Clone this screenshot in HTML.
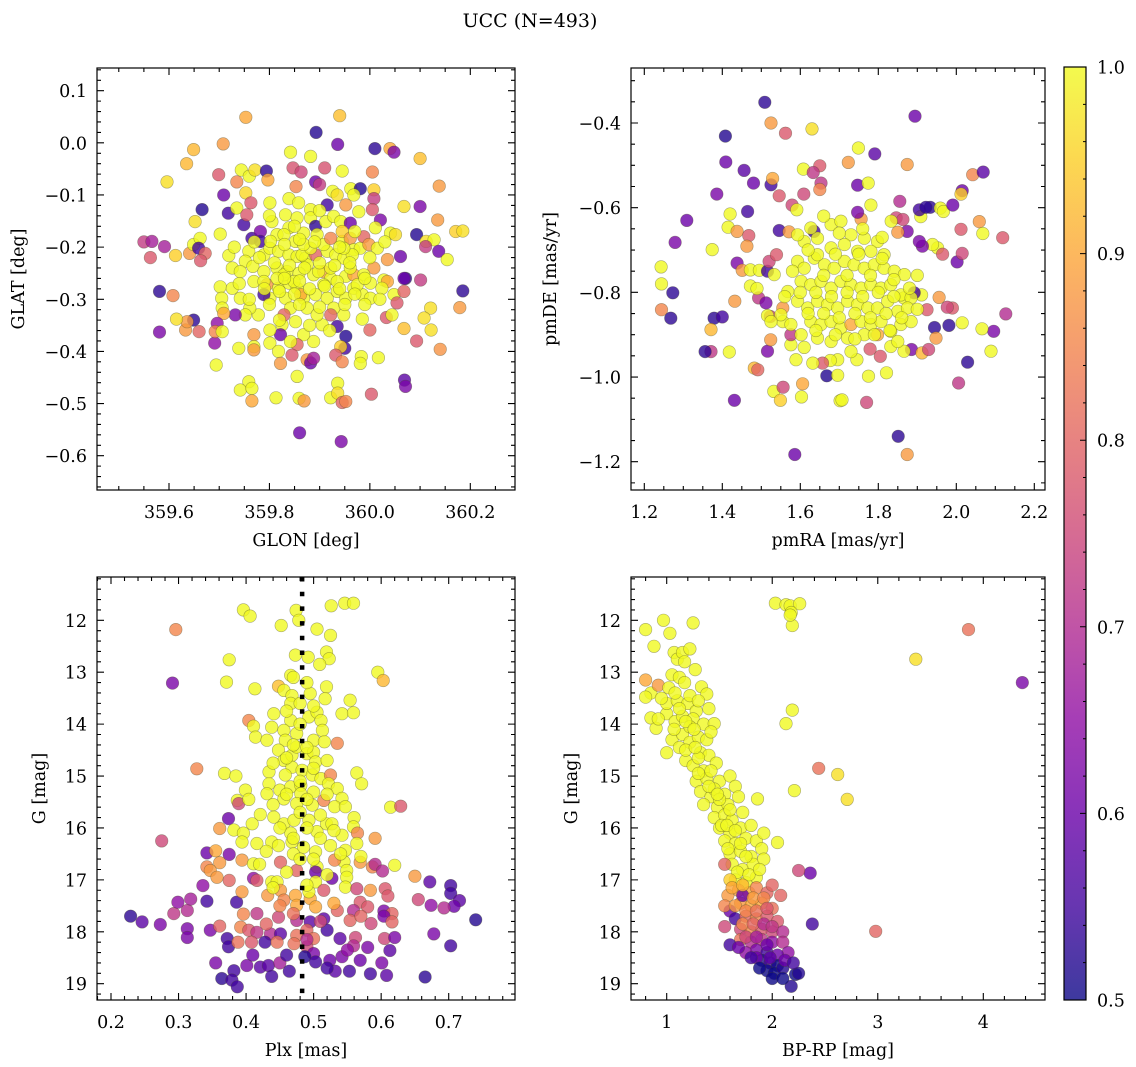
<!DOCTYPE html>
<html><head><meta charset="utf-8"><style>
html,body{margin:0;padding:0;background:#fff;}
svg{display:block;font-family:"DejaVu Serif","Liberation Serif",serif;}
</style></head><body>
<svg id="fig" width="1136" height="1067" viewBox="0 0 1136 1067" xmlns="http://www.w3.org/2000/svg">
<rect width="1136" height="1067" fill="#fff"/>
<text x="530" y="27" font-size="19" text-anchor="middle">UCC (N=493)</text>
<g id="layer"></g>
</svg>
<script>
// ---- data: [x, y, membership probability] ----
const glonGlatProb = [
[359.753,0.049,.9],[359.94,0.052,.93],[359.893,0.02,.52],[359.936,-0.003,.6],[360.01,-0.011,.53],[360.04,-0.011,.9],[360.048,-0.018,.62],[360.1,-0.03,.93],[360.138,-0.083,.88],[359.708,-0.002,.88],[359.649,-0.013,.92],[359.635,-0.04,.92],[359.596,-0.075,.97],[359.842,-0.018,1],[359.882,-0.026,1],[359.847,-0.048,.77],[359.863,-0.056,.75],[359.91,-0.048,.77],[359.945,-0.054,1],[360.005,-0.056,.85],[359.699,-0.061,.78],[359.735,-0.075,.85],[359.744,-0.052,1],[359.76,-0.064,1],[359.771,-0.052,.97],[359.794,-0.054,.53],[359.797,-0.071,.9],[359.853,-0.084,.85],[359.892,-0.075,.6],[359.9,-0.08,.73],[359.926,-0.093,1],[359.962,-0.088,1],[359.981,-0.088,.52],[360.008,-0.09,.95],[360.008,-0.107,.73],[359.709,-0.1,.6],[359.753,-0.096,.96],[359.666,-0.128,.52],[359.718,-0.135,.55],[359.735,-0.125,1],[359.763,-0.115,.78],[359.801,-0.115,1],[359.839,-0.107,1],[359.858,-0.115,1],[359.882,-0.128,1],[359.915,-0.119,.55],[359.935,-0.1,.97],[359.952,-0.119,.88],[359.968,-0.1,1],[359.978,-0.132,1],[360.005,-0.128,.78],[360.021,-0.148,.62],[360.068,-0.122,.97],[360.1,-0.122,.62],[360.135,-0.148,.88],[360.093,-0.176,.52],[360.112,-0.189,.97],[360.128,-0.186,1],[360.137,-0.208,.6],[360.171,-0.17,.95],[360.185,-0.169,.97],[360.111,-0.199,.73],[360.154,-0.224,1],[359.55,-0.19,.73],[359.566,-0.189,.68],[359.591,-0.199,.68],[359.563,-0.22,.78],[359.613,-0.216,.95],[359.641,-0.212,.88],[359.652,-0.151,.97],[359.649,-0.195,1],[359.662,-0.183,1],[359.659,-0.202,.55],[359.672,-0.212,.8],[359.663,-0.226,.78],[359.702,-0.175,1],[359.719,-0.216,1],[359.749,-0.157,.55],[359.755,-0.138,.78],[359.765,-0.183,.55],[359.782,-0.17,.62],[359.782,-0.189,.55],[359.759,-0.208,1],[359.752,-0.227,1],[359.726,-0.24,1],[359.742,-0.247,1],[359.767,-0.237,1],[359.805,-0.151,1],[359.815,-0.176,1],[359.832,-0.138,1],[359.839,-0.163,1],[359.855,-0.144,1],[359.852,-0.189,1],[359.868,-0.173,1],[359.882,-0.144,1],[359.892,-0.16,.53],[359.895,-0.176,1],[359.912,-0.151,1],[359.928,-0.141,1],[359.942,-0.151,1],[359.961,-0.154,.6],[359.945,-0.189,1],[359.945,-0.17,.95],[359.961,-0.183,.88],[359.968,-0.205,1],[359.981,-0.202,1],[359.988,-0.18,.8],[359.998,-0.195,.88],[360.015,-0.202,1],[360.011,-0.163,1],[360.035,-0.224,.88],[360.008,-0.24,.88],[360.041,-0.173,1],[360.051,-0.176,.97],[360.061,-0.218,.6],[359.789,-0.215,1],[359.801,-0.202,1],[359.818,-0.208,1],[359.839,-0.215,1],[359.855,-0.218,1],[359.872,-0.221,1],[359.875,-0.234,1],[359.892,-0.215,.8],[359.915,-0.208,1],[359.932,-0.215,1],[359.948,-0.221,1],[359.965,-0.215,1],[359.789,-0.247,1],[359.815,-0.24,1],[359.835,-0.247,1],[359.859,-0.25,1],[359.888,-0.253,1],[359.908,-0.247,.9],[359.922,-0.26,1],[359.952,-0.256,1],[359.968,-0.253,.9],[359.988,-0.253,1],[360.001,-0.269,1],[360.028,-0.263,1],[360.035,-0.266,.9],[360.071,-0.26,.53],[360.101,-0.263,.73],[360.185,-0.284,.53],[360.179,-0.316,.88],[359.581,-0.285,.53],[359.608,-0.293,.85],[359.702,-0.276,1],[359.726,-0.279,1],[359.705,-0.298,1],[359.742,-0.298,1],[359.769,-0.266,1],[359.795,-0.272,.88],[359.801,-0.298,1],[359.789,-0.291,.55],[359.818,-0.279,1],[359.839,-0.269,1],[359.832,-0.298,1],[359.855,-0.279,1],[359.868,-0.298,1],[359.892,-0.291,1],[359.915,-0.298,1],[359.935,-0.285,1],[359.952,-0.298,1],[359.968,-0.279,1],[359.985,-0.291,1],[360.001,-0.298,1],[360.024,-0.279,1],[360.048,-0.291,1],[360.054,-0.307,.78],[360.068,-0.285,.8],[360.068,-0.26,.6],[360.121,-0.317,.97],[360.108,-0.336,.97],[360.122,-0.359,.97],[360.14,-0.396,.87],[360.093,-0.38,.78],[360.068,-0.356,.93],[360.033,-0.335,.78],[360.044,-0.33,1],[360.0,-0.359,.8],[359.985,-0.338,1],[359.948,-0.33,1],[359.928,-0.317,1],[359.935,-0.352,.55],[359.952,-0.371,.52],[359.95,-0.394,.55],[359.942,-0.391,.95],[359.932,-0.407,.78],[359.945,-0.42,.85],[359.983,-0.41,1],[360.017,-0.412,1],[359.981,-0.423,1],[359.905,-0.349,1],[359.888,-0.381,1],[359.868,-0.368,1],[359.855,-0.387,.8],[359.845,-0.407,.78],[359.875,-0.416,.88],[359.882,-0.422,.6],[359.888,-0.413,.68],[359.852,-0.343,1],[359.825,-0.349,1],[359.822,-0.368,.6],[359.801,-0.384,1],[359.818,-0.4,1],[359.822,-0.423,.88],[359.842,-0.381,1],[359.801,-0.359,1],[359.778,-0.33,1],[359.761,-0.317,1],[359.752,-0.33,1],[359.732,-0.33,.62],[359.769,-0.368,.88],[359.769,-0.391,1],[359.769,-0.397,.88],[359.739,-0.394,1],[359.706,-0.317,1],[359.709,-0.327,.9],[359.696,-0.346,.65],[359.691,-0.384,.65],[359.692,-0.362,.85],[359.706,-0.362,1],[359.694,-0.426,1],[359.66,-0.362,.8],[359.649,-0.34,.53],[359.633,-0.359,.88],[359.636,-0.343,.88],[359.615,-0.338,.97],[359.581,-0.363,.62],[359.759,-0.458,1],[359.742,-0.474,1],[359.765,-0.471,1],[359.765,-0.495,.9],[359.813,-0.489,1],[359.855,-0.448,1],[359.859,-0.49,1],[359.869,-0.495,.88],[359.922,-0.489,1],[359.936,-0.461,1],[359.936,-0.48,.97],[359.945,-0.498,.8],[359.952,-0.496,.85],[360.003,-0.482,.78],[360.069,-0.455,.58],[360.071,-0.467,.62],[359.86,-0.556,.6],[359.943,-0.573,.62],
[359.829,-0.253,1],[359.849,-0.266,1],[359.865,-0.215,1],[359.882,-0.202,1],[359.898,-0.247,1],[359.922,-0.24,1],[359.815,-0.26,1],[359.862,-0.291,.9],[359.842,-0.317,1],[359.875,-0.317,1],[359.895,-0.33,1],[359.922,-0.33,.8],[359.829,-0.33,.8],[359.935,-0.266,1],[359.908,-0.272,1],[359.789,-0.266,1],[359.961,-0.24,1],[359.975,-0.272,1],[359.948,-0.202,1],[359.802,-0.189,1],[359.829,-0.176,1],[359.908,-0.195,1],[359.868,-0.195,1],[359.922,-0.183,.85],
[359.78,-0.22,1],[359.81,-0.23,1],[359.84,-0.235,1],[359.87,-0.24,1],[359.9,-0.23,1],[359.93,-0.235,1],[359.96,-0.23,1],[359.79,-0.28,1],[359.82,-0.285,1],[359.85,-0.29,1],[359.88,-0.28,1],[359.91,-0.275,1],[359.94,-0.28,1],[359.97,-0.29,1],[359.8,-0.31,1],[359.86,-0.31,1],[359.9,-0.315,1],[359.95,-0.31,1],[359.83,-0.195,1],[359.86,-0.185,1],[359.89,-0.19,1],[359.94,-0.2,1],[359.97,-0.17,1],[359.77,-0.19,1],[359.74,-0.27,1],[359.76,-0.3,1],[359.99,-0.31,1],[360.02,-0.3,1],[360.0,-0.22,1],[359.82,-0.34,1],[359.88,-0.35,1],[359.92,-0.36,1],[359.85,-0.16,1],[359.9,-0.13,1],[359.8,-0.14,1],[359.73,-0.2,1],[360.03,-0.19,1],[359.99,-0.26,1],[359.86,-0.265,1],[359.83,-0.26,1]
];
const pmraPmdeProb = [
[1.509,-0.351,.53],[1.525,-0.4,.88],[1.562,-0.424,.78],[1.63,-0.414,.97],[1.408,-0.431,.52],[1.894,-0.384,.6],[1.749,-0.459,1],[1.791,-0.473,.58],[1.723,-0.493,.88],[1.874,-0.498,.88],[1.608,-0.509,1],[1.65,-0.501,.78],[1.633,-0.517,.72],[1.653,-0.542,.72],[1.65,-0.557,.85],[1.409,-0.492,.6],[1.456,-0.512,.58],[1.48,-0.542,.6],[1.525,-0.546,.55],[1.529,-0.531,.9],[1.546,-0.572,.78],[1.609,-0.568,.75],[1.747,-0.547,.6],[1.774,-0.542,1],[1.386,-0.568,.62],[1.579,-0.594,.75],[1.591,-0.605,1],[2.042,-0.522,.85],[2.069,-0.516,.58],[2.015,-0.56,.6],[2.012,-0.568,.95],[1.855,-0.585,.7],[1.781,-0.594,1],[1.933,-0.599,.53],[1.959,-0.601,1],[1.967,-0.609,1],[1.991,-0.594,.6],[1.309,-0.63,.6],[1.42,-0.615,1],[1.465,-0.609,.55],[1.415,-0.646,1],[1.438,-0.656,.88],[1.546,-0.654,.55],[1.571,-0.657,.88],[1.635,-0.656,.55],[1.468,-0.666,.78],[1.463,-0.691,.88],[1.279,-0.682,.62],[1.374,-0.699,1],[1.438,-0.731,.62],[1.451,-0.748,.88],[1.472,-0.747,1],[1.495,-0.748,1],[1.516,-0.75,.55],[1.533,-0.758,1],[1.52,-0.727,.75],[1.539,-0.711,.78],[1.243,-0.74,1],[1.244,-0.78,1],[1.273,-0.801,.53],[1.244,-0.841,.85],[1.268,-0.861,.53],[1.379,-0.861,.53],[1.4,-0.858,.55],[1.371,-0.888,.92],[1.371,-0.94,.72],[1.356,-0.94,.53],[1.418,-0.941,1],[1.431,-1.055,.6],[1.482,-0.979,.92],[1.491,-0.983,.8],[1.516,-0.939,.62],[1.524,-0.912,.88],[1.532,-1.034,1],[1.549,-1.055,.95],[1.556,-1.024,.75],[1.606,-1.016,.9],[1.603,-1.047,1],[1.668,-0.997,.52],[1.696,-0.996,1],[1.702,-1.056,1],[1.707,-1.054,1],[1.77,-1.06,.75],[1.775,-0.998,1],[1.821,-0.99,1],[1.851,-1.14,.53],[1.586,-1.183,.6],[1.874,-1.183,.88],[2.006,-1.014,.72],[2.029,-0.965,.53],[2.089,-0.939,1],[2.096,-0.892,.62],[2.066,-0.886,1],[2.127,-0.851,.7],[2.015,-0.872,1],[1.981,-0.878,.53],[1.944,-0.883,.53],[1.948,-0.908,.88],[1.99,-0.837,.78],[1.977,-0.835,.75],[1.956,-0.812,.88],[1.925,-0.841,.78],[1.911,-0.806,1],[1.892,-0.801,.55],[1.866,-0.813,1],[1.885,-0.935,.62],[1.912,-0.943,.92],[1.929,-0.935,.75],[1.866,-0.939,1],[1.832,-0.928,1],[1.805,-0.951,.78],[1.779,-0.934,.78],[1.745,-0.959,1],[1.696,-0.959,1],[1.677,-0.961,1],[1.657,-0.967,.78],[1.632,-0.967,1],[1.589,-0.959,1],[1.576,-0.924,1],[1.576,-0.9,.72],[1.555,-0.869,1],[1.523,-0.857,.75],[1.516,-0.855,1],[1.493,-0.813,.72],[1.472,-0.785,1],[1.489,-0.791,1],[1.512,-0.825,.62],[1.555,-0.837,.88],[1.432,-0.821,.88],[1.952,-0.695,1],[1.939,-0.687,1],[1.913,-0.691,.62],[1.905,-0.68,.62],[1.965,-0.71,.78],[2.002,-0.728,.6],[2.015,-0.708,.75],[2.012,-0.651,.78],[2.059,-0.633,.88],[2.068,-0.661,1],[2.119,-0.671,.78],[1.909,-0.621,1],[1.905,-0.605,.55],[1.922,-0.599,.53],[1.874,-0.656,.62],[1.846,-0.624,.75],[1.863,-0.628,.75],[1.833,-0.632,1],[1.85,-0.658,.88],[1.756,-0.627,.88],[1.747,-0.611,.62],
[1.593,-0.727,1],[1.61,-0.743,1],[1.636,-0.719,1],[1.662,-0.735,1],[1.687,-0.743,1],[1.713,-0.727,1],[1.738,-0.735,1],[1.764,-0.743,1],[1.79,-0.735,1],[1.815,-0.743,1],[1.841,-0.75,1],[1.867,-0.758,1],[1.602,-0.774,1],[1.627,-0.782,1],[1.653,-0.774,1],[1.679,-0.79,1],[1.704,-0.774,1],[1.73,-0.782,1],[1.756,-0.79,1],[1.781,-0.782,1],[1.807,-0.79,1],[1.832,-0.782,1],[1.858,-0.806,1],[1.884,-0.813,1],[1.593,-0.821,1],[1.619,-0.837,1],[1.644,-0.821,1],[1.67,-0.829,1],[1.696,-0.837,1],[1.721,-0.821,1],[1.747,-0.829,1],[1.773,-0.837,1],[1.798,-0.837,1],[1.824,-0.821,1],[1.85,-0.845,1],[1.875,-0.837,1],[1.627,-0.869,1],[1.653,-0.876,1],[1.679,-0.869,1],[1.704,-0.884,1],[1.73,-0.876,.9],[1.756,-0.869,1],[1.781,-0.876,1],[1.807,-0.869,1],[1.832,-0.892,1],[1.858,-0.876,1],[1.884,-0.869,1],[1.61,-0.68,1],[1.644,-0.672,1],[1.679,-0.64,1],[1.704,-0.632,1],[1.73,-0.664,1],[1.764,-0.672,1],[1.798,-0.68,1],[1.815,-0.711,1],[1.781,-0.703,1],[1.747,-0.703,1],[1.713,-0.687,1],[1.679,-0.695,1],[1.644,-0.711,1],[1.568,-0.798,1],[1.576,-0.876,1],[1.602,-0.9,1],[1.644,-0.908,1],[1.679,-0.916,1],[1.721,-0.908,1],[1.764,-0.9,1],[1.798,-0.9,.9],[1.85,-0.916,1],[1.55,-0.853,1],[1.525,-0.869,1],[1.593,-0.664,1],[1.627,-0.648,1],
[1.62,-0.7,1],[1.66,-0.76,1],[1.69,-0.71,1],[1.72,-0.76,1],[1.75,-0.71,1],[1.78,-0.76,1],[1.81,-0.72,1],[1.84,-0.77,1],[1.6,-0.8,1],[1.64,-0.8,1],[1.68,-0.81,1],[1.72,-0.8,1],[1.76,-0.81,1],[1.8,-0.8,1],[1.84,-0.81,1],[1.88,-0.79,1],[1.62,-0.85,1],[1.66,-0.85,1],[1.7,-0.86,1],[1.74,-0.85,1],[1.78,-0.86,1],[1.82,-0.85,1],[1.86,-0.86,1],[1.64,-0.89,1],[1.69,-0.9,1],[1.74,-0.91,1],[1.79,-0.9,1],[1.83,-0.89,1],[1.7,-0.66,1],[1.76,-0.65,1],[1.66,-0.62,1],[1.81,-0.67,1],[1.58,-0.75,1],[1.56,-0.81,1],[1.9,-0.84,1],[1.9,-0.76,1],[1.73,-0.94,1],[1.61,-0.93,1]
];
const plxGmagProb = [
[0.396,11.8,1],[0.406,11.92,1],[0.474,11.81,1],[0.478,12.0,1],[0.452,12.1,1],[0.526,11.72,1],[0.546,11.67,1],[0.559,11.67,1],[0.505,12.17,1],[0.525,12.29,1],[0.296,12.18,.85],[0.291,13.21,.62],[0.375,12.76,1],[0.371,13.19,1],[0.473,12.67,1],[0.492,12.71,1],[0.519,12.61,1],[0.523,12.74,1],[0.509,12.85,1],[0.466,13.06,1],[0.413,13.32,1],[0.448,13.27,.93],[0.456,13.35,1],[0.468,13.45,1],[0.495,13.41,1],[0.519,13.28,1],[0.517,13.51,1],[0.595,13.0,1],[0.603,13.16,.92],[0.554,13.54,1],[0.542,13.8,1],[0.559,13.78,1],[0.404,13.93,.85],[0.411,14.04,1],[0.414,14.25,1],[0.431,14.31,1],[0.441,13.8,1],[0.466,13.6,1],[0.466,13.93,1],[0.438,14.06,1],[0.456,14.12,1],[0.458,14.31,1],[0.475,14.18,1],[0.493,13.86,1],[0.505,13.77,1],[0.511,13.93,1],[0.513,14.12,1],[0.5,14.31,1],[0.516,14.34,1],[0.535,14.37,.85],[0.448,14.5,1],[0.456,14.7,1],[0.468,14.6,1],[0.475,14.44,1],[0.49,14.57,1],[0.5,14.54,1],[0.503,14.73,1],[0.468,14.83,1],[0.327,14.86,.85],[0.368,14.95,1],[0.385,15.0,1],[0.434,14.92,1],[0.458,14.98,1],[0.483,14.89,1],[0.498,14.98,1],[0.511,15.05,1],[0.525,14.98,.85],[0.522,15.15,1],[0.564,14.94,1],[0.571,15.15,1],[0.434,15.15,1],[0.431,15.34,1],[0.45,15.27,1],[0.466,15.21,1],[0.481,15.18,1],[0.481,15.34,1],[0.5,15.31,1],[0.515,15.47,.85],[0.535,15.24,1],[0.542,15.43,1],[0.399,15.27,1],[0.387,15.47,1],[0.389,15.53,.75],[0.404,15.45,1],[0.456,15.44,1],[0.475,15.53,1],[0.498,15.56,1],[0.531,15.59,1],[0.547,15.59,1],[0.614,15.6,1],[0.629,15.58,.78],[0.374,15.82,.6],[0.361,16.01,.88],[0.382,16.04,1],[0.396,16.1,1],[0.409,15.92,1],[0.421,15.74,1],[0.441,15.79,1],[0.456,15.92,1],[0.471,15.85,1],[0.466,16.1,1],[0.493,15.85,1],[0.505,16.07,1],[0.519,15.92,1],[0.527,15.92,1],[0.542,16.14,1],[0.56,15.8,1],[0.559,15.98,1],[0.565,16.1,.85],[0.591,16.2,.88],[0.275,16.25,.75],[0.394,16.27,1],[0.416,16.3,1],[0.438,16.27,1],[0.448,16.34,1],[0.468,16.27,1],[0.485,16.37,1],[0.503,16.46,1],[0.525,16.34,1],[0.547,16.43,1],[0.564,16.3,1],[0.545,16.65,1],[0.342,16.48,.6],[0.355,16.44,.9],[0.375,16.51,.62],[0.342,16.75,.85],[0.361,16.67,.88],[0.394,16.62,.88],[0.411,16.69,1],[0.451,16.66,.8],[0.475,16.82,.8],[0.505,16.75,1],[0.503,16.85,.6],[0.531,16.62,.85],[0.549,16.82,1],[0.569,16.66,.88],[0.587,16.75,.85],[0.591,16.7,.7],[0.602,16.83,.7],[0.62,16.72,1],[0.65,16.93,.88],[0.672,17.04,.58],[0.703,17.11,.55],[0.703,17.26,.55],[0.716,17.4,.58],[0.708,17.51,.6],[0.693,17.54,.7],[0.655,17.38,.75],[0.674,17.49,.65],[0.74,17.77,.52],[0.678,18.04,.62],[0.703,18.27,.55],[0.665,18.87,.53],[0.229,17.7,.53],[0.246,17.81,.58],[0.273,17.86,.62],[0.293,17.65,.72],[0.299,17.43,.65],[0.313,17.59,.7],[0.318,17.37,.68],[0.336,17.11,.65],[0.342,17.41,.55],[0.313,17.94,.62],[0.313,18.11,.62],[0.347,17.97,.62],[0.361,17.89,.8],[0.372,18.13,.55],[0.374,18.29,.55],[0.355,18.6,.62],[0.386,17.43,.55],[0.347,16.82,.88],[0.357,16.95,.88],[0.375,17.01,.8],[0.394,17.23,.88],[0.411,16.97,.65],[0.416,17.01,.78],[0.438,17.04,1],[0.446,17.04,1],[0.432,17.3,.88],[0.451,17.2,.88],[0.456,17.39,.85],[0.473,17.3,.9],[0.475,17.49,.9],[0.495,17.36,.9],[0.503,17.52,.9],[0.503,17.04,1],[0.493,17.23,1],[0.515,17.2,.78],[0.527,16.97,.6],[0.549,16.95,1],[0.547,17.14,1],[0.564,17.17,.75],[0.584,17.2,.88],[0.606,17.17,.78],[0.61,17.31,.78],[0.569,17.43,.78],[0.58,17.52,.78],[0.604,17.6,.62],[0.616,17.65,.8],[0.604,17.7,.62],[0.616,17.81,.8],[0.585,17.84,.75],[0.559,17.59,.7],[0.535,17.59,.8],[0.554,17.78,.8],[0.515,17.75,.58],[0.495,17.81,.58],[0.475,17.78,.7],[0.448,17.72,.75],[0.416,17.65,.72],[0.396,17.66,.85],[0.392,17.91,.85],[0.404,17.97,.78],[0.416,18.01,.72],[0.436,18.04,.7],[0.451,18.04,.58],[0.475,18.07,.82],[0.49,17.97,.8],[0.5,18.13,.82],[0.52,17.97,.55],[0.539,18.13,.58],[0.562,18.11,.75],[0.559,18.27,.7],[0.605,18.13,.75],[0.62,18.11,.62],[0.613,18.36,.58],[0.388,18.2,.82],[0.408,18.2,.78],[0.428,18.2,.55],[0.446,18.2,.82],[0.471,18.23,.82],[0.49,18.29,.75],[0.5,18.42,.62],[0.487,18.48,.52],[0.503,18.58,.55],[0.524,18.55,.6],[0.542,18.48,.62],[0.569,18.55,.6],[0.601,18.6,.62],[0.401,18.65,.62],[0.421,18.68,.58],[0.433,18.65,.58],[0.45,18.6,.68],[0.382,18.75,.55],[0.438,18.86,.55],[0.464,18.76,.55],[0.532,18.76,.58],[0.553,18.76,.55],[0.584,18.81,.55],[0.608,18.84,.58],[0.364,18.9,.53],[0.379,18.93,.55],[0.387,19.06,.55],
[0.47,13.1,1],[0.49,13.2,1],[0.48,13.6,1],[0.46,13.75,1],[0.5,13.65,1],[0.48,14.0,1],[0.47,14.4,1],[0.49,14.45,1],[0.46,14.65,1],[0.52,14.7,1],[0.5,14.85,1],[0.44,14.75,1],[0.48,15.1,1],[0.46,15.35,1],[0.49,15.45,1],[0.52,15.35,1],[0.44,15.55,1],[0.48,15.7,1],[0.51,15.75,1],[0.45,16.0,1],[0.49,16.0,1],[0.53,16.05,1],[0.47,16.2,1],[0.51,16.2,1],[0.43,16.45,1],[0.47,16.5,1],[0.5,16.6,1],[0.46,16.85,1],[0.48,16.6,1],[0.54,16.5,1],[0.42,16.7,1],[0.52,16.9,1],[0.57,16.55,1],[0.44,17.15,1],[0.49,17.1,1],
[0.45,17.5,.85],[0.53,17.45,.9],[0.47,17.65,.82],[0.51,17.8,.75],[0.43,17.85,.8],[0.57,17.7,.8],[0.49,18.15,.7],[0.41,18.45,.6],[0.55,18.35,.65],[0.46,18.45,.55],[0.52,18.7,.55],[0.58,18.3,.62]
];
const bprpGmagProb = [
[2.03,11.67,1],[2.13,11.7,1],[2.17,11.72,1],[2.26,11.68,1],[2.18,11.85,1],[2.19,12.1,1],[2.17,11.9,1],[0.8,12.18,1],[0.97,12.0,1],[1.03,12.25,1],[1.25,12.05,1],[3.86,12.18,.82],[3.36,12.75,.97],[4.37,13.2,.62],[2.19,13.73,1],[2.13,13.99,1],[2.44,14.85,.82],[2.62,14.97,.97],[2.71,15.45,.97],[2.21,15.28,1],[1.86,15.44,1],[2.05,16.28,1],[2.98,17.99,.8],[2.38,17.85,.55],[2.36,16.87,.6],[2.25,16.82,.75],[0.85,13.4,1],[0.8,13.15,.9],[0.92,13.25,.88],[0.8,13.48,1],[0.85,13.88,1],[0.9,14.08,1],[1.0,13.8,1],[1.08,13.95,1],
[0.88,12.5,1],[1.07,12.62,1],[1.1,12.75,1],[1.15,12.62,1],[1.22,12.55,1],[1.17,12.8,1],[1.27,12.95,1],[1.05,13.05,1],[1.12,13.1,1],[1.17,13.2,1],[1.33,13.28,1],[1.38,13.42,1],[1.0,13.6,1],[1.1,13.55,1],[1.2,13.6,1],[1.28,13.75,1],[1.4,13.7,1],[1.15,13.85,1],[1.25,13.9,1],[1.35,14.0,1],[1.45,13.99,1],[1.05,14.3,1],[1.15,14.2,1],[1.22,14.35,1],[1.3,14.25,1],[1.38,14.3,1],[1.0,14.55,1],[1.12,14.45,1],[1.32,14.55,1],[1.4,14.6,1],[1.18,14.7,1],[1.25,14.8,1],[1.35,14.9,1],[1.47,14.75,1],[1.28,15.1,1],[1.38,15.05,1],[1.5,15.1,1],[1.6,15.0,1],[1.32,15.3,1],[1.42,15.4,1],[1.55,15.35,1],[1.65,15.2,1],[1.35,15.55,1],[1.48,15.6,1],[1.58,15.55,1],[1.68,15.4,1],[1.45,15.8,1],[1.55,15.75,1],[1.62,15.85,1],[1.72,15.7,1],[1.5,16.0,1],[1.6,16.1,1],[1.7,16.0,1],[1.8,15.95,1],[1.55,16.25,1],[1.65,16.3,1],[1.75,16.2,1],[1.85,16.25,1],[1.92,16.1,1],[1.6,16.5,1],[1.7,16.45,1],[1.8,16.55,1],[1.9,16.4,1],[1.62,16.7,1],[1.72,16.8,1],[1.82,16.7,1],[1.92,16.6,1],[1.65,17.0,1],[1.75,17.05,1],[1.85,16.95,1],[1.22,14.05,1],[1.3,14.65,1],[1.45,15.25,1],[1.52,15.95,1],[1.42,14.15,1],
[1.02,13.3,1],[1.08,13.4,1],[1.12,13.7,1],[1.18,13.95,1],[1.26,14.1,1],[1.18,14.5,1],[1.27,14.45,1],[1.3,14.95,1],[1.42,14.9,1],[1.4,15.2,1],[1.5,15.45,1],[1.6,15.65,1],[1.57,15.95,1],[1.65,16.05,1],[1.7,16.3,1],[1.75,16.55,1],[1.67,16.85,1],[1.78,16.9,1],[1.88,16.8,1],[1.58,16.4,1],[1.48,15.35,1],[1.22,13.45,1],[1.3,13.55,1],[0.95,13.5,1],[0.92,13.9,1],[1.07,14.1,1],
[1.55,16.7,.8],[1.58,17.3,.88],[1.68,17.2,.88],[1.78,17.25,.9],[1.85,17.15,.85],[1.95,17.25,.8],[2.0,17.1,.8],[2.08,17.3,.8],[1.7,17.45,.88],[1.8,17.5,.9],[1.9,17.45,.9],[2.0,17.55,.82],[1.6,17.6,.6],[1.65,17.75,.55],[1.75,17.7,.8],[1.85,17.75,.85],[1.95,17.7,.78],[2.05,17.8,.78],[1.7,17.95,.75],[1.8,18.0,.85],[1.9,17.95,.78],[2.0,18.0,.75],[2.1,18.0,.7],[1.7,18.15,.82],[1.8,18.2,.7],[1.9,18.15,.72],[2.0,18.2,.65],[2.1,18.2,.7],[2.15,18.4,.65],[1.85,18.35,.62],[1.95,18.4,.55],[2.05,18.45,.6],[1.9,18.55,.52],[1.98,18.6,.55],[2.05,18.65,.5],[1.95,18.75,.5],[2.02,18.8,.5],[2.1,18.7,.52],[2.22,18.82,.5],[2.25,18.8,.52],[2.18,19.05,.52],[1.6,18.25,.55],[1.75,18.4,.65],[1.85,18.5,.6],[2.0,18.9,.5],[1.55,17.9,.75],[1.55,17.5,.85],[1.6,17.0,.95],[1.72,17.3,.6],
[1.62,17.15,.9],[1.72,17.1,.92],[1.82,17.35,.88],[1.92,17.35,.85],[1.65,17.5,.88],[1.75,17.6,.85],[1.85,17.6,.82],[1.95,17.55,.78],[1.72,17.85,.85],[1.82,17.85,.8],[1.92,17.85,.7],[2.0,17.9,.72],[1.75,18.1,.75],[1.85,18.1,.68],[1.95,18.25,.6],[1.8,18.5,.55],[1.88,18.7,.5],[2.1,18.9,.5],[1.98,18.5,.58],[2.12,18.55,.6],[1.68,18.3,.6],[2.2,18.6,.55]
];
const plxMedian = [0.483];
const glonTicks = [359.6, 359.8, 360.0, 360.2];
const glatTicks = [0.1, 0.0, -0.1, -0.2, -0.3, -0.4, -0.5, -0.6];
const pmraTicks = [1.2, 1.4, 1.6, 1.8, 2.0, 2.2];
const pmdeTicks = [-0.4, -0.6, -0.8, -1.0, -1.2];
const plxTicks = [0.2, 0.3, 0.4, 0.5, 0.6, 0.7];
const gmagTicks = [12, 13, 14, 15, 16, 17, 18, 19];
const bprpTicks = [1, 2, 3, 4];
const cbarTicks = [0.5, 0.6, 0.7, 0.8, 0.9, 1.0];

const NS = 'http://www.w3.org/2000/svg';
const layer = document.getElementById('layer');
function mk(tag, attrs, parent) {
  const e = document.createElementNS(NS, tag);
  for (const k in attrs) e.setAttribute(k, attrs[k]);
  (parent || layer).appendChild(e);
  return e;
}
const plasma = [[13,8,135],[65,4,157],[106,0,168],[143,13,164],[177,42,144],[204,71,120],[225,100,98],[242,132,75],[252,166,54],[252,206,37],[240,249,33]];
function cmap(c) {
  let t = Math.max(0, Math.min(1, (c - 0.5) / 0.5)) * 10;
  const i = Math.min(9, Math.floor(t)), f = t - i;
  const a = plasma[i], b = plasma[i + 1];
  return 'rgb(' + [0,1,2].map(k => Math.round(a[k] + (b[k] - a[k]) * f)).join(',') + ')';
}
function lin(p0, v0, p1, v1) { const s = (p1 - p0) / (v1 - v0); const f = v => p0 + (v - v0) * s; f.inv = p => v0 + (p - p0) / s; return f; }
function fmt(v, d) { const s = Math.abs(v).toFixed(d); return (v < -1e-9 ? '\u2212' : '') + s; }

function panel(cfg) {
  const {name, L, R, T, B, sx, sy, xMajor, yMajor, xMinor, yMinor, xd, yd, data, xlabel, ylabel, ylx} = cfg;
  const g = mk('g', {});
  
  
  const clipId = name + '-clip';
  const cp = mk('clipPath', {id: clipId}, g);
  mk('rect', {x: L, y: T, width: R - L, height: B - T}, cp);
  const pts = mk('g', {'clip-path': 'url(#' + clipId + ')'}, g);
  
  
  data.forEach(d => {
    const c = mk('circle', {cx: sx(d[0]).toFixed(1), cy: sy(d[1]).toFixed(1), r: 6.3, fill: cmap(d[2]), 'fill-opacity': 0.8, stroke: 'rgba(70,70,40,0.45)', 'stroke-width': 0.6}, pts);
    
    
  });
  if (cfg.vline) {
    cfg.vline.forEach(v => {
      const l = mk('line', {x1: sx(v), x2: sx(v), y1: T, y2: B, stroke: '#000', 'stroke-width': 4.5, 'stroke-dasharray': '4.5 10.2'}, g);
      
      
    });
  }
  const fr = mk('rect', {x: L, y: T, width: R - L, height: B - T, fill: 'none', stroke: '#000', 'stroke-width': 1.2}, g);
  
  
  const x0 = sx.inv(L), x1 = sx.inv(R), y0 = sy.inv(B), y1 = sy.inv(T);
  const xlo = Math.min(x0, x1), xhi = Math.max(x0, x1), ylo = Math.min(y0, y1), yhi = Math.max(y0, y1);
  let path = '';
  for (let k = Math.ceil(xlo / xMinor - 1e-6); k * xMinor <= xhi + 1e-9; k++) {
    const p = sx(k * xMinor); path += `M${p},${B}v-4M${p},${T}v4`;
  }
  for (let k = Math.ceil(ylo / yMinor - 1e-6); k * yMinor <= yhi + 1e-9; k++) {
    const p = sy(k * yMinor); path += `M${L},${p}h4M${R},${p}h-4`;
  }
  xMajor.forEach(v => { const p = sx(v); path += `M${p},${B}v-7M${p},${T}v7`; });
  yMajor.forEach(v => { const p = sy(v); path += `M${L},${p}h7M${R},${p}h-7`; });
  const tk = mk('path', {d: path, stroke: '#000', 'stroke-width': 1.1, fill: 'none'}, g);
  
  
  xMajor.forEach(v => {
    const t = mk('text', {x: sx(v), y: B + 28, 'font-size': 17.5, 'text-anchor': 'middle'}, g);
    t.textContent = fmt(v, xd);
    
    
  });
  yMajor.forEach(v => {
    const t = mk('text', {x: L - 10, y: sy(v) + 6.5, 'font-size': 17.5, 'text-anchor': 'end'}, g);
    t.textContent = fmt(v, yd);
    
    
  });
  const xl = mk('text', {x: (L + R) / 2, y: B + 56, 'font-size': 17.5, 'text-anchor': 'middle'}, g);
  xl.textContent = xlabel;
  
  
  const cy = (T + B) / 2;
  const yl = mk('text', {x: ylx, y: cy, 'font-size': 17.5, 'text-anchor': 'middle', transform: `rotate(-90 ${ylx} ${cy})`}, g);
  yl.textContent = ylabel;
  
  
}

panel({name: 'glon-glat-panel', L: 97, R: 515, T: 68, B: 490,
  sx: lin(169, 359.6, 470.3, 360.2), sy: lin(90.7, 0.1, 455.7, -0.6),
  xMajor: glonTicks, yMajor: glatTicks, xMinor: 0.05, yMinor: 0.02, xd: 1, yd: 1,
  data: glonGlatProb, xlabel: 'GLON [deg]', ylabel: 'GLAT [deg]', ylx: 24});
panel({name: 'pm-panel', L: 631, R: 1045, T: 68, B: 490,
  sx: lin(644.3, 1.2, 956.3, 2.0), sy: lin(123, -0.4, 461.7, -1.2),
  xMajor: pmraTicks, yMajor: pmdeTicks, xMinor: 0.05, yMinor: 0.05, xd: 1, yd: 1,
  data: pmraPmdeProb, xlabel: 'pmRA [mas/yr]', ylabel: 'pmDE [mas/yr]', ylx: 556});
panel({name: 'plx-g-panel', L: 97, R: 515, T: 577, B: 1000,
  sx: lin(111, 0.2, 448.7, 0.7), sy: lin(620.3, 12, 983.7, 19),
  xMajor: plxTicks, yMajor: gmagTicks, xMinor: 0.02, yMinor: 0.2, xd: 1, yd: 0,
  data: plxGmagProb, xlabel: 'Plx [mas]', ylabel: 'G [mag]', ylx: 45, vline: plxMedian});
panel({name: 'cmd-panel', L: 631, R: 1045, T: 577, B: 1000,
  sx: lin(666.7, 1, 983.3, 4), sy: lin(620.3, 12, 983.7, 19),
  xMajor: bprpTicks, yMajor: gmagTicks, xMinor: 0.2, yMinor: 0.2, xd: 0, yd: 0,
  data: bprpGmagProb, xlabel: 'BP-RP [mag]', ylabel: 'G [mag]', ylx: 577});

(function () {
  const L = 1064, R = 1086, T = 67, B = 1000;
  const sc = lin(B, 0.5, T, 1.0);
  const g = mk('g', {});
  
  
  const defs = mk('defs', {}, g);
  const lg = mk('linearGradient', {id: 'cbgrad', x1: 0, y1: 1, x2: 0, y2: 0}, defs);
  for (let i = 0; i <= 20; i++) mk('stop', {offset: i / 20, 'stop-color': cmap(0.5 + i * 0.025)}, lg);
  const r = mk('rect', {x: L, y: T, width: R - L, height: B - T, fill: 'url(#cbgrad)', 'fill-opacity': 0.8, stroke: '#000', 'stroke-width': 1.2}, g);
  
  
  let path = '';
  for (let k = 25; k <= 50; k++) { const p = sc(k * 0.02); path += `M${R},${p}h-3`; }
  cbarTicks.forEach(v => { path += `M${R},${sc(v)}h-6`; });
  mk('path', {d: path, stroke: '#000', 'stroke-width': 1}, g);
  cbarTicks.forEach(v => {
    const t = mk('text', {x: 1097, y: sc(v) + 6.5, 'font-size': 17.5}, g);
    t.textContent = v.toFixed(1);
    
    
  });
})();
</script>
</body></html>
